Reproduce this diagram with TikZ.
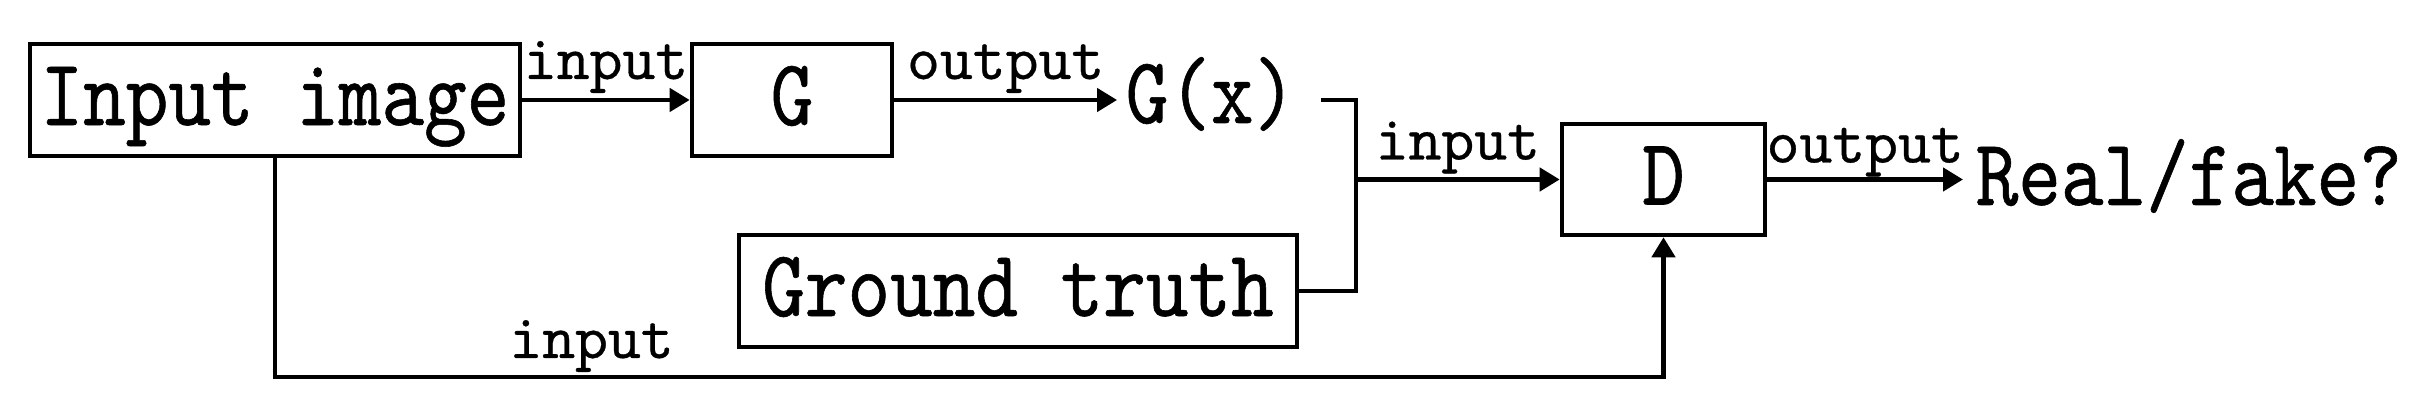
\documentclass[tikz,border=0pt]{standalone}
\usepackage{fontspec}
\usetikzlibrary{arrows.meta}
\newfontfamily\bigf{lmmono10-regular.otf}[FakeStretch=0.855,FakeBold=0.6]
\newfontfamily\smallf{lmmono10-regular.otf}[FakeBold=0.5]
\begin{document}
\begin{tikzpicture}[x=0.01cm,y=-0.01cm,
  box/.style={draw, line width=0.045cm, inner sep=0, minimum height=1.12cm, text height=0.5cm, text depth=0cm, font=\bigf\fontsize{27}{27}\selectfont},
  bigtxt/.style={inner sep=0, font=\bigf\fontsize{27}{27}\selectfont},
  lbl/.style={inner sep=0, anchor=base, font=\smallf\fontsize{17.8}{18}\selectfont},
  conn/.style={line width=0.045cm},
  arr/.style={conn, -{Triangle[length=0.2cm,width=0.23cm]}}]
\useasboundingbox (0,0) rectangle (2417,410);
\node[box, minimum width=4.9cm] (inimg) at (275,100) {Input image};
\node[box, minimum width=2.0cm] (G) at (792,100) {G};
\node[box, minimum width=5.58cm] (GT) at (1018,291) {Ground truth};
\node[box, minimum width=2.03cm, minimum height=1.11cm] (D) at (1663.5,179.5) {D};
\node[bigtxt, anchor=base, inner xsep=0.08cm] (Gx) at (1211,123) {G(x)};
\node[bigtxt, anchor=base west, inner xsep=0.12cm] (RF) at (1963,205) {Real/fake?};
\coordinate (j) at (1356,179.5);
\coordinate (b) at (275,377);
\draw[arr] (inimg.east) -- node[lbl, yshift=0.21cm]{input} (G.west);
\draw[arr] (G.east) -- node[lbl, yshift=0.21cm]{output} (G.east -| Gx.west);
\draw[conn] ([xshift=0.16cm]Gx.east |- G.east) -- (j |- G.east) -- (j |- GT.east) -- (GT.east);
\draw[arr] (j) -- node[lbl, yshift=0.2cm]{input} (D.west);
\draw[arr] (D.east) -- node[lbl, yshift=0.17cm]{output} (D.east -| RF.west);
\draw[arr] (inimg.south) -- (b) -- node[lbl, pos=0.228, yshift=0.19cm]{input} (b -| D.south) -- (D.south);
\end{tikzpicture}
\end{document}
